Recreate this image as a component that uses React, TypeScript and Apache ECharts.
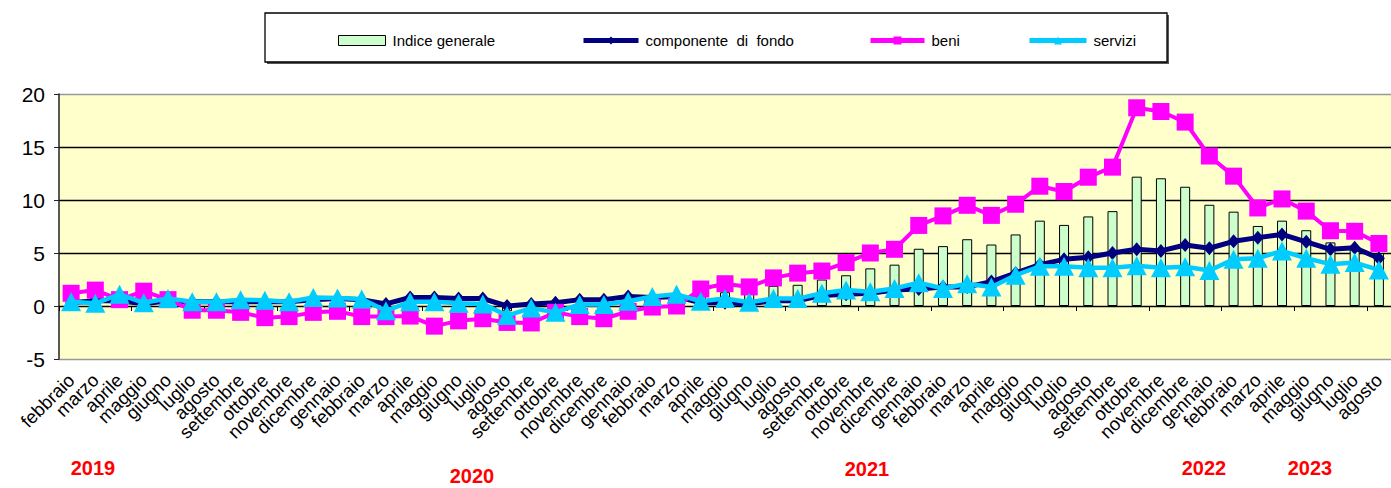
import React, { useEffect, useRef } from 'react';
import * as echarts from 'echarts';

const categories = [
  'febbraio', 'marzo', 'aprile', 'maggio', 'giugno', 'luglio', 'agosto', 'settembre', 'ottobre', 'novembre', 'dicembre',
  'gennaio', 'febbraio', 'marzo', 'aprile', 'maggio', 'giugno', 'luglio', 'agosto', 'settembre', 'ottobre', 'novembre', 'dicembre',
  'gennaio', 'febbraio', 'marzo', 'aprile', 'maggio', 'giugno', 'luglio', 'agosto', 'settembre', 'ottobre', 'novembre', 'dicembre',
  'gennaio', 'febbraio', 'marzo', 'aprile', 'maggio', 'giugno', 'luglio', 'agosto', 'settembre', 'ottobre', 'novembre', 'dicembre',
  'gennaio', 'febbraio', 'marzo', 'aprile', 'maggio', 'giugno', 'luglio', 'agosto',
];

const indiceGenerale = [
  1.0, 1.0, 1.0, 0.8, 0.7, 0.4, 0.4, 0.3, 0.1, 0.2, 0.5,
  0.5, 0.3, 0.1, 0.0, -0.2, -0.2, -0.4, -0.5, -0.6, -0.3, -0.2, -0.2,
  0.2, 0.6, 0.8, 1.1, 1.3, 1.3, 1.9, 2.0, 2.5, 2.9, 3.55, 3.9,
  5.4, 5.65, 6.3, 5.8, 6.75, 8.05, 7.65, 8.45, 8.95, 12.2, 12.05, 11.25,
  9.55, 8.9, 7.55, 8.05, 7.15, 6.0, 5.6, 5.0,
];

const componenteDiFondo = [
  0.3, 0.5, 0.5, 0.2, 0.5, 0.4, 0.4, 0.4, 0.4, 0.4, 0.6,
  0.7, 0.6, 0.2, 0.8, 0.8, 0.7, 0.7, 0.0, 0.2, 0.3, 0.6, 0.6,
  0.9, 0.8, 0.9, 0.3, 0.3, 0.2, 0.5, 0.5, 1.0, 1.1, 1.2, 1.5,
  1.6, 1.8, 1.8, 2.3, 3.1, 3.9, 4.4, 4.6, 5.0, 5.35, 5.2, 5.75,
  5.45, 6.1, 6.45, 6.75, 6.05, 5.35, 5.5, 4.5,
];

const beni = [
  1.2, 1.5, 0.6, 1.4, 0.6, -0.4, -0.4, -0.6, -1.1, -1.0, -0.6,
  -0.5, -1.0, -1.0, -0.95, -1.9, -1.4, -1.2, -1.55, -1.6, -0.6, -1.0, -1.2,
  -0.5, -0.1, 0.0, 1.6, 2.1, 1.8, 2.65, 3.1, 3.3, 4.1, 5.0, 5.35,
  7.6, 8.5, 9.5, 8.55, 9.6, 11.3, 10.8, 12.15, 13.1, 18.7, 18.35, 17.35,
  14.15, 12.25, 9.25, 10.1, 8.95, 7.1, 7.05, 5.9,
];

const servizi = [
  0.4, 0.25, 1.1, 0.3, 0.7, 0.4, 0.4, 0.6, 0.55, 0.4, 0.8,
  0.75, 0.65, -0.45, 0.4, 0.4, 0.25, 0.2, -0.9, -0.2, -0.6, 0.15, 0.15,
  0.45, 0.9, 1.1, 0.45, 0.7, 0.35, 0.7, 0.7, 1.2, 1.5, 1.35, 1.65,
  2.2, 1.65, 2.1, 1.8, 2.9, 3.75, 3.75, 3.6, 3.6, 3.8, 3.6, 3.7,
  3.35, 4.4, 4.5, 5.2, 4.5, 3.95, 4.1, 3.4,
];

const seriesNames = ['Indice generale', 'componente  di  fondo', 'beni', 'servizi'];
const yearLabels = ['2019', '2020', '2021', '2022', '2023'];

export default function App() {
  const ref = useRef<HTMLDivElement>(null);

  useEffect(() => {
    if (!ref.current) return;
    const chart = echarts.init(ref.current, null, { renderer: 'svg' });
    const font = "'Liberation Sans', Arial, sans-serif";
    const colors = ['#CCFFCC', '#000080', '#FF00FF', '#00CCFF'];
    const yearPos = [
      [93, 468],
      [472, 476],
      [867, 469],
      [1204, 468],
      [1310, 468],
    ];
    const legendLeft = [338, 581, 868, 1027];
    const legendIconW = [47, 55, 54, 57];
    const legendLineW = [1, 5, 5, 5];

    chart.setOption({
      animation: false,
      backgroundColor: '#ffffff',
      textStyle: { fontFamily: font },
      grid: {
        left: 59,
        right: -6,
        top: 94,
        bottom: 129,
        show: true,
        backgroundColor: '#FFFFCC',
        borderWidth: 0,
      },
      legend: seriesNames.map((n, i) => ({
        data: [n],
        left: legendLeft[i],
        top: 33,
        itemWidth: legendIconW[i],
        itemHeight: 10,
        padding: 0,
        icon: i === 0 ? 'rect' : undefined,
        selectedMode: false,
        textStyle: { fontSize: 15, color: '#000', fontFamily: font, padding: [0, 0, 0, 2] },
        itemStyle:
          i === 0
            ? { color: colors[0], borderColor: '#000', borderWidth: 1 }
            : { color: colors[i], borderWidth: 0 },
        lineStyle: i === 0 ? undefined : { width: legendLineW[i], color: colors[i] },
      })),
      xAxis: [
        {
          type: 'category',
          data: categories,
          position: 'bottom',
          axisLine: { show: false, onZero: false },
          axisTick: { show: false },
          axisLabel: {
            interval: 0,
            rotate: 45,
            fontSize: 18.5,
            color: '#000',
            margin: 18,
            fontFamily: font,
          },
          splitLine: { show: false },
        },
        {
          type: 'category',
          data: categories,
          position: 'top',
          axisLine: { show: true, onZero: true, lineStyle: { color: '#000', width: 1.2 } },
          axisTick: { show: true, inside: true, length: 5, lineStyle: { color: '#000', width: 1 } },
          axisLabel: { show: false },
          splitLine: { show: false },
        },
      ],
      yAxis: {
        type: 'value',
        min: -5,
        max: 20,
        interval: 5,
        axisLine: { show: true, lineStyle: { color: '#222', width: 1.5 } },
        axisTick: { show: true, length: 5, lineStyle: { color: '#222' } },
        axisLabel: { fontSize: 21, color: '#000', margin: 14, fontFamily: font },
        splitLine: {
          show: true,
          lineStyle: { color: ['#999999', '#000000', '#000000', '#000000', '#000000', '#999999'], width: 1.3 },
        },
      },
      series: [
        {
          name: seriesNames[0],
          type: 'bar',
          data: indiceGenerale,
          barWidth: 10,
          itemStyle: { color: colors[0], borderColor: '#000', borderWidth: 1 },
          z: 2,
        },
        {
          name: seriesNames[1],
          type: 'line',
          data: componenteDiFondo,
          symbol: 'diamond',
          symbolSize: [12, 14],
          lineStyle: { color: colors[1], width: 5 },
          itemStyle: { color: colors[1] },
          z: 3,
        },
        {
          name: seriesNames[2],
          type: 'line',
          data: beni,
          symbol: 'rect',
          symbolSize: 17,
          lineStyle: { color: colors[2], width: 4 },
          itemStyle: { color: colors[2] },
          z: 4,
        },
        {
          name: seriesNames[3],
          type: 'line',
          data: servizi,
          symbol: 'triangle',
          symbolSize: [20, 19],
          lineStyle: { color: colors[3], width: 4.5 },
          itemStyle: { color: colors[3] },
          z: 5,
        },
      ],
      graphic: [
        {
          type: 'rect',
          shape: { x: 267, y: 15, width: 902, height: 49 },
          style: { fill: '#555', stroke: 'none' },
          z: 0,
        },
        {
          type: 'rect',
          shape: { x: 265, y: 13, width: 902, height: 49 },
          style: { fill: '#fff', stroke: '#000', lineWidth: 1.3 },
          z: 1,
        },
        ...yearLabels.map((t, i) => ({
          type: 'text',
          x: yearPos[i][0],
          y: yearPos[i][1],
          style: {
            text: t,
            fill: '#FF0000',
            fontSize: 20,
            fontWeight: 'bold',
            fontFamily: font,
            align: 'center',
            verticalAlign: 'middle',
          },
        })),
      ],
    });

    return () => {
      chart.dispose();
    };
  }, []);

  return (
    <div
      ref={ref}
      style={{ position: 'fixed', left: 0, top: 0, width: 1391, height: 488 }}
    />
  );
}
